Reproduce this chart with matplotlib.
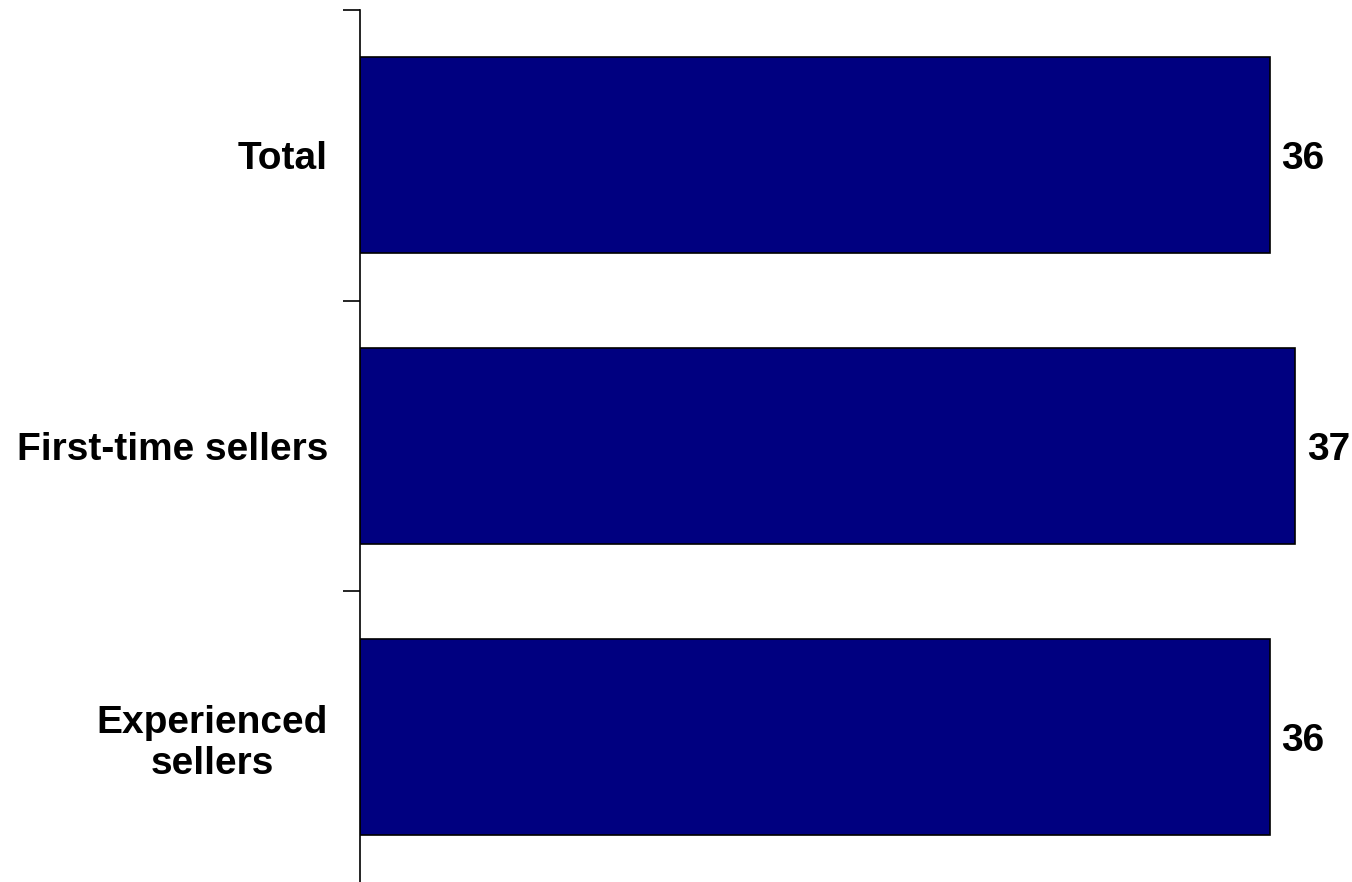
import matplotlib.pyplot as plt

categories = ['Total', 'First-time sellers', 'Experienced\nsellers']
values = [36, 37, 36]

plt.rcParams['font.family'] = ['Liberation Sans', 'DejaVu Sans']

fig = plt.figure(figsize=(13.52, 8.82), dpi=100)
ax = fig.add_axes([360 / 1352, 0, 1 - 360 / 1352, 1 - 10 / 882])

pos = list(range(len(categories)))
ax.barh(pos, values, height=0.674, color='#000080', edgecolor='black', linewidth=1.2)

for p, v in zip(pos, values):
    ax.text(v + 0.45, p, str(v), va='center_baseline', ha='left', fontsize=28, fontweight='bold')

ax.set_xlim(0, 39.24)
ax.set_ylim(2.5, -0.5)

# category labels without tick marks, tick marks between categories
ax.set_yticks(pos)
ax.set_yticklabels(categories, fontsize=28, fontweight='bold', ha='right', multialignment='center')
ax.tick_params(axis='y', which='major', length=0, pad=23)
ax.set_yticks([-0.5, 0.5, 1.5], minor=True)
ax.tick_params(axis='y', which='minor', length=12, width=1.2, color='black')
ax.set_xticks([])

for side in ['top', 'right', 'bottom']:
    ax.spines[side].set_visible(False)
ax.spines['left'].set_linewidth(1.2)

fig.savefig('out.png', dpi=100)
